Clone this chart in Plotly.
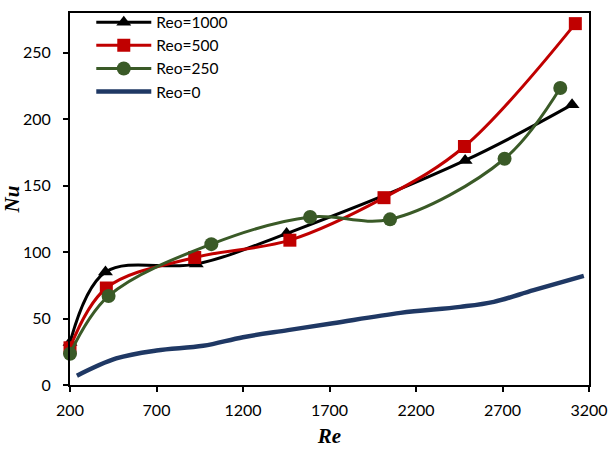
import plotly.graph_objects as go

# Data
re_1000 = [200, 405, 930, 1452, 2484, 3102]
nu_1000 = [32, 85, 91, 114, 169, 211]

re_500 = [200, 410, 921, 1471, 2015, 2480, 3121]
nu_500 = [28, 73, 96, 109, 141, 179.5, 272]

re_250 = [200, 423, 1017, 1588, 2050, 2712, 3034]
nu_250 = [23.5, 67, 106, 126.5, 124.7, 170.3, 223.5]

re_0 = [240, 467, 700, 970, 1200, 1460, 1720, 2110, 2455, 2650, 2880, 3170]
nu_0 = [7, 20, 26, 29.5, 36, 41.3, 46.5, 54.3, 58.8, 62.6, 71.4, 82.1]

x_ticks = [200, 700, 1200, 1700, 2200, 2700, 3200]
y_ticks = [0, 50, 100, 150, 200, 250]

BLACK = "#000000"
RED = "#C00000"
GREEN = "#3A5A27"
BLUE = "#1F3864"

fig = go.Figure()
fig.add_trace(go.Scatter(x=re_1000, y=nu_1000, name="Reo=1000", mode="lines+markers",
                         cliponaxis=False,
                         line=dict(color=BLACK, width=3, shape="spline", smoothing=1),
                         marker=dict(symbol="triangle-up", size=13, color=BLACK)))
fig.add_trace(go.Scatter(x=re_500, y=nu_500, name="Reo=500", mode="lines+markers",
                         cliponaxis=False,
                         line=dict(color=RED, width=3, shape="spline", smoothing=1),
                         marker=dict(symbol="square", size=13, color=RED)))
fig.add_trace(go.Scatter(x=re_250, y=nu_250, name="Reo=250", mode="lines+markers",
                         cliponaxis=False,
                         line=dict(color=GREEN, width=3, shape="spline", smoothing=1),
                         marker=dict(symbol="circle", size=14, color=GREEN)))
fig.add_trace(go.Scatter(x=re_0, y=nu_0, name="Reo=0", mode="lines",
                         line=dict(color=BLUE, width=4.5, shape="spline", smoothing=1)))

fig.update_layout(
    width=612, height=449,
    margin=dict(l=70, r=23, t=13, b=64, autoexpand=False),
    plot_bgcolor="white", paper_bgcolor="white",
    font=dict(family="Lato, Liberation Sans, sans-serif", size=16, color="black"),
    showlegend=True,
    legend=dict(x=0.041, y=1.02, xanchor="left", yanchor="top",
                bgcolor="rgba(255,255,255,0)", font=dict(size=15.5),
                tracegroupgap=0, itemwidth=55),
    xaxis=dict(range=[200, 3200], tickvals=x_ticks, ticks="outside", ticklen=5,
               tickwidth=1.5, tickcolor="black", showline=True, linecolor="black",
               linewidth=2, mirror=True, showgrid=False, zeroline=False,
               automargin=False, ticklabelstandoff=5,
               title=dict(text="<b><i>Re</i></b>",
                          font=dict(family="Liberation Serif, serif", size=21),
                          standoff=10)),
    yaxis=dict(range=[0, 280], tickvals=y_ticks, ticks="outside", ticklen=5,
               tickwidth=1.5, tickcolor="black", showline=True, linecolor="black",
               linewidth=2, mirror=True, showgrid=False, zeroline=False,
               automargin=False, ticklabelstandoff=9,
               title=dict(text="<b><i>Nu</i></b>",
                          font=dict(family="Liberation Serif, serif", size=21),
                          standoff=0)),
)

fig.write_html("out.html")
